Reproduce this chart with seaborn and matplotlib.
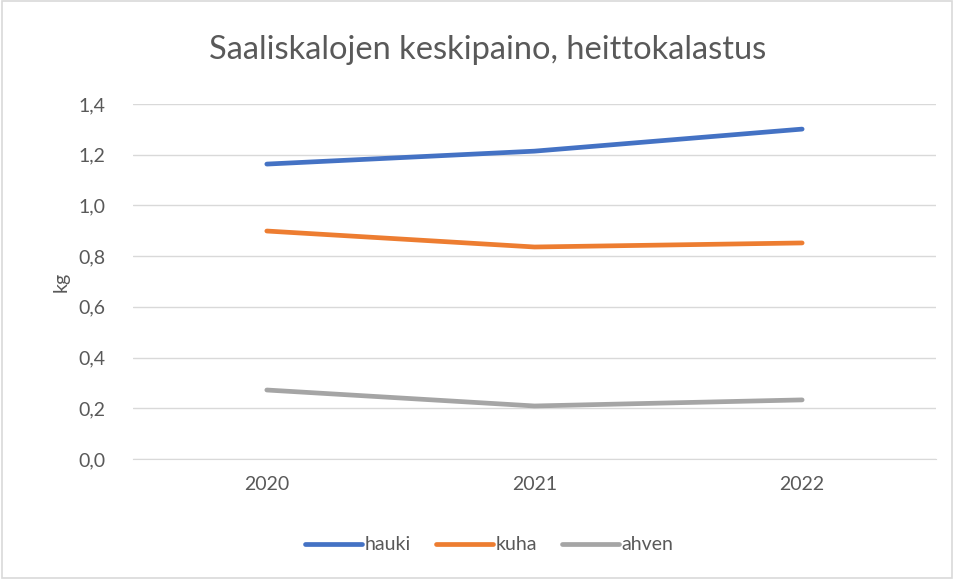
import numpy as np
import pandas as pd
import matplotlib
matplotlib.use('Agg')
import matplotlib.pyplot as plt
import seaborn as sns
from matplotlib.patches import Rectangle
from matplotlib.ticker import FuncFormatter

YEARS = ['2020', '2021', '2022']
HAUKI = [1.163, 1.214, 1.301]
KUHA = [0.899, 0.836, 0.852]
AHVEN = [0.272, 0.209, 0.233]
SERIES = ['hauki', 'kuha', 'ahven']
COLORS = ['#4472C4', '#ED7D31', '#A5A5A5']
TEXT = '#595959'

sns.set_style('white')
plt.rcParams['font.family'] = ['Lato', 'DejaVu Sans']

df = pd.DataFrame({'year': YEARS * 3,
                   'kg': HAUKI + KUHA + AHVEN,
                   'laji': [s for s in SERIES for _ in YEARS]})

fig = plt.figure(figsize=(9.54, 5.79), dpi=100)
ax = fig.add_axes([0.1394, 0.2073, 0.8417, 0.6131])

sns.lineplot(data=df, x='year', y='kg', hue='laji', hue_order=SERIES,
             palette=COLORS, linewidth=3.4, ax=ax, sort=False,
             solid_capstyle='round')

ax.set_xlim(-0.5, 2.5)
ax.set_ylim(0, 1.4)
ax.set_yticks(np.arange(0, 1.41, 0.2))
ax.yaxis.set_major_formatter(FuncFormatter(lambda v, p: f'{v:.1f}'.replace('.', ',')))
ax.grid(axis='y', color='#D9D9D9', linewidth=1)
ax.set_axisbelow(True)
for s in ['top', 'right', 'left']:
    ax.spines[s].set_visible(False)
ax.spines['bottom'].set_color('#D9D9D9')
ax.tick_params(axis='both', length=0, labelsize=14, colors=TEXT, pad=20)
ax.tick_params(axis='x', pad=12)
ax.set_xlabel('')
ax.set_ylabel('kg', fontsize=14, color=TEXT, labelpad=6)

fig.text(0.511, 0.913, 'Saaliskalojen keskipaino, heittokalastus',
         ha='center', va='center', fontsize=23.5, color=TEXT)

handles, labels = ax.get_legend_handles_labels()
ax.legend(handles, labels, loc='center', bbox_to_anchor=(0.513, 0.059),
          bbox_transform=fig.transFigure, ncol=3, frameon=False,
          fontsize=14, labelcolor=TEXT, handlelength=2.9, handletextpad=0.15,
          columnspacing=1.3)

fig.patches.append(Rectangle((0.002, 0.002), 0.996, 0.996, transform=fig.transFigure,
                             fill=False, edgecolor='#D9D9D9', linewidth=1.2))

fig.savefig('out.png', dpi=100)
